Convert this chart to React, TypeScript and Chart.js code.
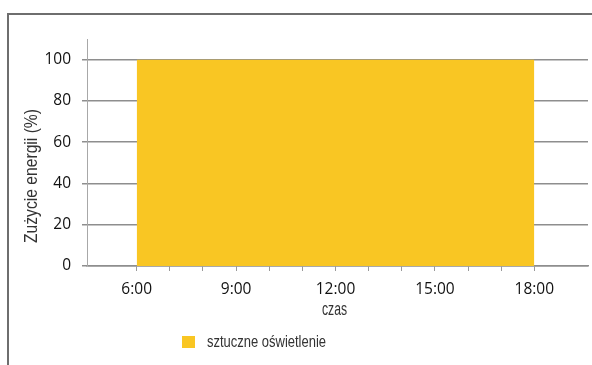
import { useEffect, useRef } from "react";
import { Chart, registerables } from "chart.js";

Chart.register(...registerables);

// ---- data ----
const hours = [6, 18];
const usage = [100, 100];
const yTickValues = [0, 20, 40, 60, 80, 100];
const xTickHours = [6, 7, 8, 9, 10, 11, 12, 13, 14, 15, 16, 17, 18];
const xLabelHours = [6, 9, 12, 15, 18];
const seriesLabel = "sztuczne oświetlenie";
const yTitle = "Zużycie energii (%)";
const xTitle = "czas";

const YELLOW = "#F9C623";
const GRID = "#8e8e8e";
const TICK_FONT = { family: "'Open Sans', 'DejaVu Sans', sans-serif", size: 15.5 };
const TITLE_FAMILY = "'Liberation Sans', Arial, sans-serif";

function drawFitted(
  ctx: CanvasRenderingContext2D,
  text: string,
  x: number,
  y: number,
  size: number,
  targetWidth: number,
  align: "left" | "center",
  rotate = 0
) {
  ctx.save();
  ctx.font = `${size}px ${TITLE_FAMILY}`;
  const w = ctx.measureText(text).width;
  const sx = targetWidth / w;
  ctx.translate(x, y);
  ctx.rotate(rotate);
  ctx.scale(sx, 1);
  ctx.textAlign = align;
  ctx.textBaseline = "middle";
  ctx.fillText(text, 0, 0);
  ctx.restore();
}

const decorPlugin = {
  id: "decor",
  afterDraw(chart: any) {
    const ctx: CanvasRenderingContext2D = chart.ctx;
    // frame
    ctx.save();
    ctx.strokeStyle = "#6e6e6e";
    ctx.lineWidth = 2;
    ctx.beginPath();
    ctx.moveTo(8, 365);
    ctx.lineTo(8, 14);
    ctx.lineTo(592, 14);
    ctx.stroke();
    ctx.restore();

    ctx.fillStyle = "#333333";
    // y title
    drawFitted(ctx, yTitle, 32, 176, 17.5, 134, "center", -Math.PI / 2);
    // x title
    const xs = chart.scales.x;
    drawFitted(ctx, xTitle, (xs.left + xs.right) / 2 - 3, 310, 18, 25, "center");
    // legend
    const ds = chart.data.datasets[0];
    ctx.fillStyle = ds.backgroundColor;
    ctx.fillRect(182, 336, 13, 12);
    ctx.fillStyle = "#333333";
    drawFitted(ctx, ds.label, 207, 342, 17, 119, "left");
  },
};

export default function App() {
  const ref = useRef<HTMLCanvasElement | null>(null);
  useEffect(() => {
    if (!ref.current) return;
    const chart = new Chart(ref.current, {
      type: "line",
      data: {
        datasets: [
          {
            label: seriesLabel,
            data: hours.map((h, i) => ({ x: h, y: usage[i] })),
            fill: "origin",
            backgroundColor: YELLOW,
            borderColor: YELLOW,
            borderWidth: 0,
            pointRadius: 0,
            tension: 0,
          },
        ],
      },
      options: {
        responsive: false,
        animation: false,
        layout: { padding: { left: 45, right: 4, top: 39, bottom: 59 } },
        plugins: { legend: { display: false }, tooltip: { enabled: false } },
        scales: {
          x: {
            type: "linear",
            min: 4.5,
            max: 19.62,
            z: 1,
            afterBuildTicks: (s: any) => {
              s.ticks = xTickHours.map((v) => ({ value: v }));
            },
            afterFit: (s: any) => {
              s.height = 40;
            },
            ticks: {
              autoSkip: false,
              maxRotation: 0,
              padding: 9,
              color: "#111111",
              font: TICK_FONT,
              callback: (v: any) => (xLabelHours.includes(Number(v)) ? `${v}:00` : ""),
            },
            grid: { drawOnChartArea: false, drawTicks: true, tickLength: 5, color: "#9a9a9a", lineWidth: 1 },
            border: { color: GRID, width: 1.5 },
          },
          y: {
            min: 0,
            max: 110,
            z: 1,
            afterBuildTicks: (s: any) => {
              s.ticks = yTickValues.map((v) => ({ value: v }));
            },
            afterFit: (s: any) => {
              s.width = 42;
            },
            ticks: { padding: 11, color: "#111111", font: TICK_FONT },
            grid: { color: GRID, lineWidth: 1.5, tickLength: 5 },
            border: { color: "#a8a8a8", width: 1 },
          },
        },
      },
      plugins: [decorPlugin],
    });
    return () => chart.destroy();
  }, []);
  return (
    <div style={{ position: "fixed", left: 0, top: 0, width: 592, height: 365, background: "#fff" }}>
      <canvas ref={ref} width={592} height={365} />
    </div>
  );
}
